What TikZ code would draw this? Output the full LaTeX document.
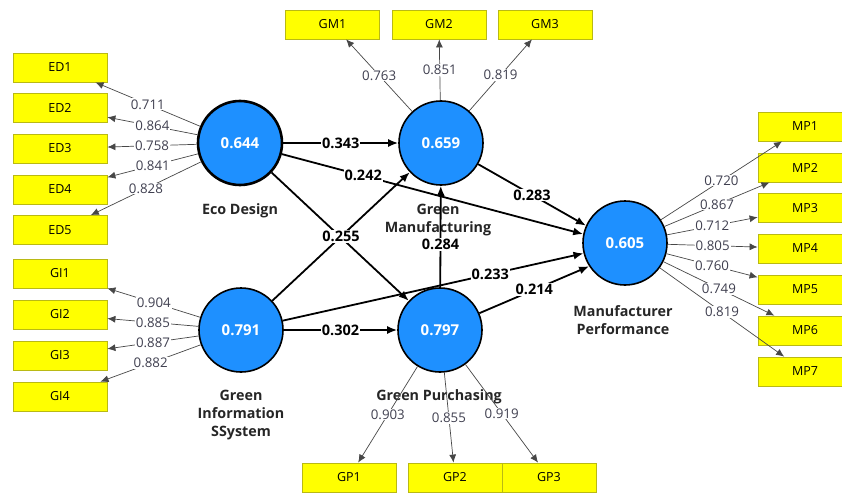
\documentclass[tikz,border=0pt]{standalone}
\usepackage{fontspec}
\setmainfont{Open Sans}
\usepackage{xcolor}
\usetikzlibrary{arrows.meta,positioning}

\definecolor{lvblue}{RGB}{30,144,255}
\definecolor{mvyellow}{RGB}{255,255,0}
\definecolor{mvedge}{RGB}{185,185,20}
\definecolor{ldgray}{RGB}{64,64,80}

\begin{document}
\begin{tikzpicture}[x=1pt,y=-1pt,
lv/.style={circle,draw,line width=1.6pt,fill=lvblue,minimum size=84pt,inner sep=0pt,text=white,font=\fontsize{15}{16}\selectfont\bfseries},
mv/.style={rectangle,draw=mvedge,line width=0.8pt,fill=mvyellow,minimum width=94pt,minimum height=29pt,inner sep=0pt,font=\fontsize{12.5}{14}\selectfont},
lvname/.style={align=center,font=\fontsize{14.3}{18}\selectfont\bfseries,text=black!85},
struct/.style={line width=1.8pt,-{Latex[length=10pt,width=8pt]}},
loading/.style={line width=0.7pt,draw=black!72,-{Latex[length=8pt,width=7pt]}},
coef/.style={fill=white,inner sep=1pt,font=\fontsize{14.5}{16}\selectfont\bfseries},
ldlbl/.style={fill=white,inner sep=1pt,text=ldgray,font=\fontsize{13.3}{15}\selectfont}]

\path[fill=white,use as bounding box] (0,0) rectangle (842,492);

% latent variables
\node[lv, line width=2.6pt] (ed) at (240,143) {0.644};
\node[lv] (gm) at (441,143) {0.659};
\node[lv] (gi) at (241,330) {0.791};
\node[lv] (gp) at (440,330) {0.797};
\node[lv] (mp) at (625,243) {0.605};

\node[lvname] (edname) at (240,211) {Eco Design};
\node[lvname] (gmname) at (438,220) {Green\\Manufacturing};
\node[lvname] (giname) at (241,415) {Green\\Information\\SSystem};
\node[lvname] (gpname) at (439,397) {Green Purchasing};
\node[lvname] (mpname) at (623,320) {Manufacturer\\Performance};

% indicators
\foreach \i/\y in {1/67.5,2/108,3/148.5,4/189.5,5/230}
  \node[mv] (ed\i) at (60,\y) {ED\i};
\foreach \i/\y in {1/273.5,2/314.5,3/355.5,4/396.5}
  \node[mv] (gi\i) at (60,\y) {GI\i};
\foreach \i/\x in {1/332.5,2/439,3/545}
  \node[mv] (gm\i) at (\x,24.5) {GM\i};
\foreach \i/\x in {1/349,2/455,3/549}
  \node[mv] (gp\i) at (\x,477.5) {GP\i};
\foreach \i/\y in {1/126.5,2/167.5,3/208,4/248.5,5/289.5,6/330.5,7/371.5}
  \node[mv] (mp\i) at (805,\y) {MP\i};

% outer loadings
\foreach \i/\v in {1/0.711,2/0.864,3/0.758,4/0.841,5/0.828}
  \draw[loading] (ed) -- node[ldlbl] {\v} (ed\i);
\foreach \i/\v in {1/0.904,2/0.885,3/0.887,4/0.882}
  \draw[loading] (gi) -- node[ldlbl] {\v} (gi\i);
\foreach \i/\v in {1/0.763,2/0.851,3/0.819}
  \draw[loading] (gm) -- node[ldlbl] {\v} (gm\i);
\foreach \i/\v in {1/0.903,2/0.855,3/0.919}
  \draw[loading] (gp) -- node[ldlbl] {\v} (gp\i);
\foreach \i/\v in {1/0.720,2/0.867,3/0.712,4/0.805,5/0.760,6/0.749,7/0.819}
  \draw[loading] (mp) -- node[ldlbl] {\v} (mp\i);

% path coefficients
\draw[struct] (ed) -- (gp);
\draw[struct] (gi) -- node[coef] {0.255} (gm);
\draw[struct] (ed) -- node[coef] {0.343} (gm);
\draw[struct] (ed) -- node[coef,pos=0.27] {0.242} (mp.168);
\draw[struct] (gi) -- node[coef] {0.302} (gp);
\draw[struct] (gi) -- node[coef,pos=0.69] {0.233} (mp.194);
\draw[struct] (gp) -- node[coef,pos=0.42] {0.284} (gm);
\draw[struct] (gm) -- node[coef] {0.283} (mp.156);
\draw[struct] (gp) -- node[coef] {0.214} (mp.213);
\end{tikzpicture}
\end{document}
